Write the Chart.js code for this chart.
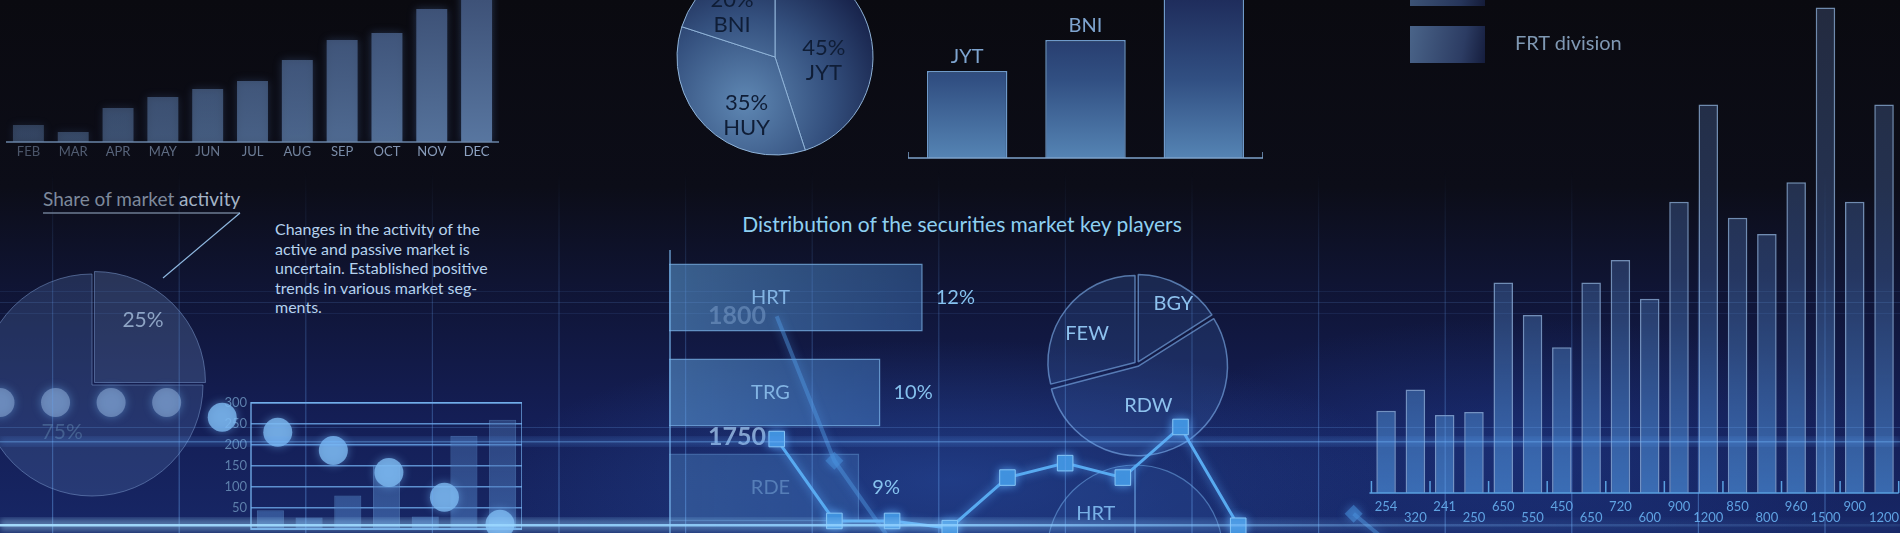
<!DOCTYPE html>
<html>
<head>
<meta charset="utf-8">
<script src="https://cdn.jsdelivr.net/npm/chart.js@4.4.1/dist/chart.umd.min.js"></script>
<style>
  html, body { margin: 0; padding: 0; }
  body {
    width: 1900px; height: 533px; overflow: hidden; position: relative;
    font-family: Lato, "Open Sans", sans-serif;
    background:
      radial-gradient(ellipse 650px 200px at 950px 480px, rgba(45,90,180,0.45), rgba(45,90,180,0) 70%),
      radial-gradient(ellipse 520px 190px at 1520px 450px, rgba(35,70,160,0.35), rgba(35,70,160,0) 70%),
      linear-gradient(to bottom, #0a0a10 0%, #0c0d18 35%, #10163a 58%, #141e55 78%, #172766 100%);
  }
  canvas, .abs { position: absolute; }
  .txt { white-space: nowrap; }
</style>
</head>
<body>

<canvas id="market" width="260" height="260" style="left:-38px;top:255px"></canvas>
<canvas id="activity" width="311" height="150" style="left:211px;top:391px"></canvas>
<canvas id="dots" width="570" height="180" style="left:-40px;top:361px"></canvas>
<canvas id="months" width="493" height="164" style="left:6px;top:0px"></canvas>
<canvas id="share" width="210" height="210" style="left:670px;top:-48px"></canvas>
<canvas id="rank" width="355" height="170" style="left:908px;top:0px"></canvas>
<canvas id="keys" width="340" height="285" style="left:669px;top:250px"></canvas>
<canvas id="players" width="210" height="210" style="left:1032px;top:259px"></canvas>
<canvas id="lower" width="200" height="200" style="left:1035px;top:453px"></canvas>
<canvas id="division" width="540" height="533" style="left:1367px;top:0px"></canvas>
<canvas id="rates" width="790" height="253" style="left:679px;top:280px"></canvas>

<div class="abs txt" style="left:43px;top:187px;font-size:19px;color:#7d899b">Share of market <span style="color:#a3b3c6">activity</span></div>
<div class="abs txt" style="left:275px;top:219px;font-size:16px;line-height:19.6px;color:#b5d2ee">Changes in the activity of the<br>active and passive market is<br>uncertain. Established positive<br>trends in various market seg-<br>ments.</div>
<div class="abs txt" style="left:962px;top:211px;transform:translateX(-50%);font-size:21px;color:#8ed0f2">Distribution of the securities market key players</div>

<div class="abs" style="left:1410px;top:-31px;width:75px;height:37px;background:linear-gradient(100deg,#3f5678,#26355a 70%,#141b38)"></div>
<div class="abs" style="left:1410px;top:26px;width:75px;height:37px;background:linear-gradient(100deg,#4a6489,#2c3c63 70%,#151d3d)"></div>
<div class="abs txt" style="left:1515px;top:30px;font-size:20px;color:#7f98b3">FRT division</div>

<svg id="deco" class="abs" style="left:0;top:0;pointer-events:none" width="1900" height="533"></svg>

<script>
// ---- data ----
const months = ['FEB', 'MAR', 'APR', 'MAY', 'JUN', 'JUL', 'AUG', 'SEP', 'OCT', 'NOV', 'DEC'];
const monthValues = [17, 10, 34, 45, 53, 61, 82, 102, 109, 133, 165];

const sharePlayers = ['JYT', 'HUY', 'BNI'];
const sharePercents = [45, 35, 20];

const rankPlayers = ['JYT', 'BNI', ''];
const rankValues = [87, 118, 175];

const marketShares = [25, 75];

const activitySlots = ['1', '2', '3', '4', '5', '6', '7'];
const activityValues = [45, 28, 80, 152, 30, 222, 260];
const activityDots = [297, 297, 297, 297, 265, 233, 194, 147, 94, 36];

const keyPlayers = ['HRT', 'TRG', 'RDE'];
const keyPercents = [12, 10, 9];

const ratePoints = [1749, 1715, 1715, 1712, 1733, 1739, 1733, 1754, 1713];
const ratePointsPrev = [1800, 1740, 1706, null, null, null, null, null, null, null, 1718, 1698];
const rateTicks = [1800, 1750];

const piePlayers = ['BGY', 'RDW', 'FEW'];
const piePercents = [16, 55, 29];

const lowerPlayers = ['', 'HRT'];
const lowerPercents = [75, 25];

const divisionValues = [254, 320, 241, 250, 650, 550, 450, 650, 720, 600, 900, 1200, 850, 800, 960, 1500, 900, 1200];

// ---- defaults ----
Chart.defaults.font.family = "Lato, 'Open Sans', sans-serif";
Chart.defaults.animation = false;
Chart.defaults.responsive = false;
Chart.defaults.events = [];
Chart.defaults.layout.autoPadding = false;
Chart.defaults.plugins.legend.display = false;
Chart.defaults.plugins.tooltip.enabled = false;

const el = id => document.getElementById(id);

// vertical gradient over the chart area
function vFill(stops) {
    return (c) => {
        const a = c.chart.chartArea;
        if (!a) return stops[0][1];
        const g = c.chart.ctx.createLinearGradient(0, a.top, 0, a.bottom);
        stops.forEach(s => g.addColorStop(s[0], s[1]));
        return g;
    };
}

// text inside pie slices
function sliceLabels(cfg) {
    return {
        id: 'sliceLabels',
        afterDatasetsDraw(chart) {
            const ctx = chart.ctx;
            ctx.save();
            ctx.font = cfg.font;
            ctx.fillStyle = cfg.color;
            ctx.textAlign = 'center';
            ctx.textBaseline = 'middle';
            chart.getDatasetMeta(0).data.forEach((arc, i) => {
                const lines = cfg.text[i];
                if (!lines || !lines.length) return;
                const p = arc.getProps(['x', 'y', 'startAngle', 'endAngle', 'outerRadius']);
                const off = arc.options.offset || 0;
                const ang = (p.startAngle + p.endAngle) / 2 + cfg.shift[i] * Math.PI / 180;
                const r = p.outerRadius * cfg.factor[i] + off;
                const x = p.x + Math.cos(ang) * r;
                const y = p.y + Math.sin(ang) * r;
                lines.forEach((t, k) => ctx.fillText(t, x, y + (k - (lines.length - 1) / 2) * cfg.lineHeight));
            });
            ctx.restore();
        }
    };
}

function glow(color, blur) {
    return {
        id: 'glow',
        beforeDatasetsDraw(chart) {
            chart.ctx.save();
            chart.ctx.shadowColor = color;
            chart.ctx.shadowBlur = blur;
        },
        afterDatasetsDraw(chart) {
            chart.ctx.restore();
        }
    };
}

// ---- monthly bars (top left) ----
const monthAxis = {
    id: 'monthAxis',
    afterDatasetsDraw(chart) {
        const {ctx, chartArea: a} = chart;
        ctx.save();
        ctx.strokeStyle = '#6a84a6';
        ctx.lineWidth = 1.5;
        ctx.beginPath();
        ctx.moveTo(a.left - 6, a.bottom);
        ctx.lineTo(a.right + 8, a.bottom);
        ctx.lineTo(a.right + 8, a.bottom - 5);
        ctx.stroke();
        ctx.restore();
    }
};
new Chart(el('months'), {
    type: 'bar',
    data: {
        labels: months,
        datasets: [{
            data: monthValues,
            backgroundColor: (c) => {
                const a = c.chart.chartArea;
                if (!a) return '#3a4a66';
                const k = 0.45 + 0.55 * c.index / (months.length - 1);
                const g = c.chart.ctx.createLinearGradient(0, a.top, 0, a.bottom);
                g.addColorStop(0, `rgba(62,82,120,${k})`);
                g.addColorStop(1, `rgba(88,118,160,${k})`);
                return g;
            },
            borderWidth: 0,
            barPercentage: 0.69,
            categoryPercentage: 1
        }]
    },
    options: {
        scales: {
            x: {
                grid: {display: false, drawTicks: false},
                border: {display: false},
                ticks: {
                    color: c => `rgba(150,172,204,${0.45 + 0.5 * c.index / (months.length - 1)})`,
                    font: {size: 13},
                    padding: 2,
                    maxRotation: 0,
                    autoSkip: false
                },
                afterFit(s) { s.height = 22; }
            },
            y: {display: false, min: 0, max: 142}
        }
    },
    plugins: [glow('rgba(90,130,200,0.35)', 8), monthAxis]
});

// ---- share pie (top centre) ----
new Chart(el('share'), {
    type: 'pie',
    data: {
        labels: sharePlayers,
        datasets: [{
            data: sharePercents,
            backgroundColor: (c) => {
                const a = c.chart.chartArea;
                if (!a) return '#33507a';
                const cx = (a.left + a.right) / 2, cy = (a.top + a.bottom) / 2;
                const g = c.chart.ctx.createRadialGradient(cx - 30, cy + 45, 5, cx - 30, cy + 45, 150);
                g.addColorStop(0, '#5c84b0');
                g.addColorStop(0.55, '#34507e');
                g.addColorStop(1, '#17224a');
                return g;
            },
            borderColor: '#8fb3d8',
            borderWidth: 1,
            hoverOffset: 0
        }]
    },
    options: {radius: 98},
    plugins: [sliceLabels({
        text: sharePercents.map((v, i) => [v + '%', sharePlayers[i]]),
        factor: [0.5, 0.66, 0.63],
        shift: [13, -19, -8],
        font: '22px Lato, sans-serif',
        color: '#0f1d36',
        lineHeight: 25
    })]
});

// ---- rank bars (top centre) ----
const rankAxis = {
    id: 'rankAxis',
    afterDatasetsDraw(chart) {
        const {ctx, chartArea: a} = chart;
        const meta = chart.getDatasetMeta(0);
        ctx.save();
        ctx.strokeStyle = '#7da3cc';
        ctx.lineWidth = 1.5;
        ctx.beginPath();
        ctx.moveTo(a.left, a.bottom - 6);
        ctx.lineTo(a.left, a.bottom);
        ctx.lineTo(a.right, a.bottom);
        ctx.lineTo(a.right, a.bottom - 6);
        ctx.stroke();
        ctx.font = '20px Lato, sans-serif';
        ctx.fillStyle = '#7ea4cf';
        ctx.textAlign = 'center';
        ctx.textBaseline = 'middle';
        meta.data.forEach((bar, i) => ctx.fillText(rankPlayers[i], bar.x, bar.y - 14));
        ctx.restore();
    }
};
new Chart(el('rank'), {
    type: 'bar',
    data: {
        labels: rankPlayers,
        datasets: [{
            data: rankValues,
            backgroundColor: vFill([[0, '#1f2d5c'], [0.5, '#314f82'], [1, '#5584b4']]),
            borderColor: '#6f9aca',
            borderWidth: 1.5,
            borderSkipped: 'bottom',
            barPercentage: 0.68,
            categoryPercentage: 1
        }]
    },
    options: {
        layout: {padding: {bottom: 12}},
        scales: {x: {display: false}, y: {display: false, min: 0, max: 158}}
    },
    plugins: [rankAxis]
});

// ---- market activity pie (bottom left) ----
new Chart(el('market'), {
    type: 'pie',
    data: {
        labels: marketShares.map(v => v + '%'),
        datasets: [{
            data: marketShares,
            backgroundColor: ['rgba(95,125,175,0.32)', 'rgba(80,110,165,0.30)'],
            borderColor: 'rgba(120,150,200,0.55)',
            borderWidth: 1,
            offset: [14, 0],
            hoverOffset: 0
        }]
    },
    options: {radius: 111},
    plugins: [{
        id: 'marketText',
        afterDatasetsDraw(chart) {
            const ctx = chart.ctx;
            const arcs = chart.getDatasetMeta(0).data;
            const factor = [0.62, 0.5], shift = [-7, -12.5];
            const colors = ['#8ea4c4', 'rgba(75,105,150,0.8)'];
            ctx.save();
            ctx.font = '21px Lato, sans-serif';
            ctx.textAlign = 'center';
            ctx.textBaseline = 'middle';
            arcs.forEach((arc, i) => {
                const off = arc.options.offset || 0;
                const ang = (arc.startAngle + arc.endAngle) / 2 + shift[i] * Math.PI / 180;
                const r = arc.outerRadius * factor[i] + off;
                ctx.fillStyle = colors[i];
                ctx.fillText(marketShares[i] + '%', arc.x + Math.cos(ang) * r, arc.y + Math.sin(ang) * r);
            });
            ctx.restore();
        }
    }]
});

// ---- activity bars (bottom left) ----
const activityFrame = {
    id: 'activityFrame',
    afterDraw(chart) {
        const {ctx, chartArea: a} = chart;
        ctx.save();
        ctx.strokeStyle = 'rgba(120,180,240,0.85)';
        ctx.lineWidth = 1.5;
        ctx.strokeRect(a.left, a.top, a.width, a.height);
        ctx.restore();
    }
};
new Chart(el('activity'), {
    type: 'bar',
    data: {
        labels: activitySlots,
        datasets: [{
            data: activityValues,
            backgroundColor: vFill([[0, 'rgba(70,105,165,0.45)'], [1, 'rgba(80,130,200,0.55)']]),
            borderColor: 'rgba(100,150,210,0.55)',
            borderWidth: 1,
            barPercentage: 0.7,
            categoryPercentage: 1
        }]
    },
    options: {
        layout: {padding: {top: 10}},
        scales: {
            x: {display: false},
            y: {
                min: 0, max: 300,
                grid: {color: 'rgba(110,170,235,0.8)', lineWidth: 1.5, drawTicks: false},
                border: {display: false},
                ticks: {
                    stepSize: 50,
                    padding: 4,
                    color: '#5d7fab',
                    font: {size: 13},
                    callback: v => v === 0 ? '' : v
                },
                afterFit(s) { s.width = 40; }
            }
        }
    },
    plugins: [activityFrame]
});

// ---- dots over the activity chart ----
new Chart(el('dots'), {
    type: 'scatter',
    data: {
        datasets: [{
            data: activityDots.map((v, i) => ({x: i, y: v})),
            pointRadius: 14.5,
            pointBorderWidth: 0,
            pointBackgroundColor: c => c.index < 4 ? 'rgba(120,150,195,0.72)' : 'rgba(125,185,240,0.8)',
            clip: false
        }]
    },
    options: {
        layout: {padding: {left: 40, top: 40, right: 30}},
        scales: {
            x: {type: 'linear', display: false, min: 0, max: activityDots.length - 1},
            y: {display: false, min: 0, max: 300}
        }
    },
    plugins: [glow('rgba(120,190,255,0.6)', 10)]
});

// ---- key players horizontal bars ----
const keyText = {
    id: 'keyText',
    afterDatasetsDraw(chart) {
        const {ctx, chartArea: a, scales: {x}} = chart;
        const meta = chart.getDatasetMeta(0);
        ctx.save();
        ctx.strokeStyle = 'rgba(120,180,235,0.8)';
        ctx.lineWidth = 1.5;
        ctx.beginPath();
        ctx.moveTo(a.left + 1, a.top);
        ctx.lineTo(a.left + 1, a.bottom);
        ctx.stroke();
        ctx.font = '20px Lato, sans-serif';
        ctx.textBaseline = 'middle';
        meta.data.forEach((bar, i) => {
            ctx.textAlign = 'center';
            ctx.fillStyle = i === 2 ? 'rgba(120,165,215,0.55)' : 'rgba(135,185,232,0.95)';
            ctx.fillText(keyPlayers[i], x.getPixelForValue(4.8), bar.y);
            ctx.textAlign = 'left';
            ctx.fillStyle = '#86c2ee';
            ctx.fillText(keyPercents[i] + '%', bar.x + 13, bar.y);
        });
        ctx.restore();
    }
};
new Chart(el('keys'), {
    type: 'bar',
    data: {
        labels: keyPlayers,
        datasets: [{
            data: keyPercents,
            backgroundColor: (c) => {
                const a = c.chart.chartArea;
                if (!a) return 'rgba(80,140,210,0.5)';
                const k = c.index === 2 ? 0.6 : 1;
                const g = c.chart.ctx.createLinearGradient(a.left, 0, a.left + 260, 0);
                g.addColorStop(0, `rgba(95,160,220,${0.55 * k})`);
                g.addColorStop(1, `rgba(70,130,205,${0.42 * k})`);
                return g;
            },
            borderColor: c => c.index === 2 ? 'rgba(110,170,230,0.45)' : 'rgba(125,185,240,0.75)',
            borderWidth: 1.5,
            borderSkipped: 'left',
            barPercentage: 0.716,
            categoryPercentage: 1
        }]
    },
    options: {
        indexAxis: 'y',
        scales: {x: {display: false, min: 0, max: 16.08}, y: {display: false}}
    },
    plugins: [keyText]
});

// ---- exploded players pie ----
new Chart(el('players'), {
    type: 'pie',
    data: {
        labels: piePlayers,
        datasets: [{
            data: piePercents,
            backgroundColor: 'rgba(70,120,200,0.2)',
            borderColor: 'rgba(130,180,240,0.6)',
            borderWidth: 1.5,
            offset: 10,
            hoverOffset: 0
        }]
    },
    options: {radius: 87},
    plugins: [sliceLabels({
        text: piePlayers.map(p => [p]),
        factor: [0.7, 0.38, 0.56],
        shift: [2, 8, -6],
        font: '20px Lato, sans-serif',
        color: '#8ec2ee',
        lineHeight: 24
    })]
});

// ---- lower pie ----
new Chart(el('lower'), {
    type: 'pie',
    data: {
        labels: lowerPlayers,
        datasets: [{
            data: lowerPercents,
            backgroundColor: 'rgba(60,110,190,0.15)',
            borderColor: 'rgba(120,180,240,0.5)',
            borderWidth: 1.2,
            hoverOffset: 0
        }]
    },
    options: {radius: 88},
    plugins: [sliceLabels({
        text: lowerPlayers.map(p => p ? [p] : []),
        factor: [0.5, 0.63],
        shift: [0, 0],
        font: '20px Lato, sans-serif',
        color: '#78b0e6',
        lineHeight: 24
    })]
});

// ---- division bars (right) ----
const divisionAxis = {
    id: 'divisionAxis',
    afterDatasetsDraw(chart) {
        const {ctx, chartArea: a, scales: {x}} = chart;
        const half = (x.getPixelForValue(1) - x.getPixelForValue(0)) / 2;
        ctx.save();
        ctx.strokeStyle = '#5aa0e0';
        ctx.lineWidth = 1.5;
        ctx.beginPath();
        ctx.moveTo(a.left - 2, a.bottom);
        ctx.lineTo(a.right, a.bottom);
        for (let i = 0; i <= divisionValues.length; i += 2) {
            const px = x.getPixelForValue(i) - half;
            ctx.moveTo(px, a.bottom);
            ctx.lineTo(px, a.bottom - 12);
        }
        ctx.stroke();
        ctx.restore();
    }
};
new Chart(el('division'), {
    type: 'bar',
    data: {
        labels: divisionValues.map(String),
        datasets: [{
            data: divisionValues,
            backgroundColor: vFill([[0, 'rgba(60,75,110,0.5)'], [0.55, 'rgba(60,90,145,0.5)'], [1, 'rgba(80,150,225,0.62)']]),
            borderColor: 'rgba(145,182,225,0.75)',
            borderWidth: 1.5,
            borderSkipped: 'bottom',
            barPercentage: 0.667,
            categoryPercentage: 1
        }]
    },
    options: {
        scales: {
            x: {
                grid: {display: false, drawTicks: false},
                border: {display: false},
                ticks: {
                    color: '#5fa2e2',
                    font: {size: 13, lineHeight: 0.85},
                    padding: 8,
                    maxRotation: 0,
                    autoSkip: false,
                    callback: (v, i) => i % 2 === 0 ? [String(divisionValues[i]), ''] : ['', String(divisionValues[i])]
                },
                afterFit(s) { s.height = 40; }
            },
            y: {display: false, min: 0, max: 1523}
        }
    },
    plugins: [divisionAxis]
});

// ---- rate line (centre bottom) ----
const rateLabels = {
    id: 'rateLabels',
    beforeDatasetsDraw(chart) {
        const {ctx, chartArea: a, scales: {y}} = chart;
        ctx.save();
        ctx.font = 'bold 25px Lato, sans-serif';
        ctx.textAlign = 'right';
        ctx.textBaseline = 'middle';
        rateTicks.forEach((t, i) => {
            ctx.fillStyle = i === 0 ? 'rgba(115,150,195,0.6)' : 'rgba(150,185,225,0.85)';
            ctx.fillText(String(t), a.left + 47, y.getPixelForValue(t));
        });
        ctx.restore();
    }
};
new Chart(el('rates'), {
    type: 'line',
    data: {
        datasets: [{
            data: ratePoints.map((v, i) => ({x: i, y: v})),
            borderColor: '#58aaf0',
            borderWidth: 3,
            pointStyle: 'rect',
            pointRadius: 11,
            pointBackgroundColor: '#3f90dc',
            pointBorderColor: '#86c6f6',
            pointBorderWidth: 1,
            tension: 0
        }, {
            data: ratePointsPrev.map((v, i) => ({x: i, y: v})),
            borderColor: 'rgba(80,150,225,0.45)',
            borderWidth: 4,
            pointStyle: 'rectRot',
            pointRadius: c => c.index === 0 ? 0 : 9,
            pointBackgroundColor: 'rgba(70,140,215,0.55)',
            pointBorderWidth: 0,
            spanGaps: false,
            tension: 0
        }]
    },
    options: {
        layout: {padding: {left: 40}},
        scales: {
            x: {type: 'linear', display: false, min: -1, max: 12},
            y: {display: false, min: 1710, max: 1815}
        }
    },
    plugins: [rateLabels, glow('rgba(90,170,255,0.8)', 10)]
});

// ---- decorative grid ----
(function () {
    const svg = el('deco');
    let html = '<defs>' +
        '<linearGradient id="vfade" x1="0" y1="0" x2="0" y2="1">' +
        '<stop offset="0" stop-color="rgb(100,160,240)" stop-opacity="0"/>' +
        '<stop offset="0.35" stop-color="rgb(100,160,240)" stop-opacity="0.22"/>' +
        '<stop offset="1" stop-color="rgb(110,175,250)" stop-opacity="0.42"/></linearGradient>' +
        '<linearGradient id="hfade" x1="0" y1="0" x2="1" y2="0">' +
        '<stop offset="0" stop-color="#a8e0ff" stop-opacity="0.95"/>' +
        '<stop offset="0.5" stop-color="#8fd0ff" stop-opacity="0.85"/>' +
        '<stop offset="0.75" stop-color="#7fc0ff" stop-opacity="0.25"/>' +
        '<stop offset="1" stop-color="#7fc0ff" stop-opacity="0.1"/></linearGradient>' +
        '<filter id="blur"><feGaussianBlur stdDeviation="3"/></filter>' +
        '</defs>';
    for (let k = 0; k < 15; k++) {
        const x = 52 + 126.6 * k;
        html += `<rect x="${x}" y="170" width="1.2" height="363" fill="url(#vfade)"/>`;
    }
    [[291, 0.10], [302, 0.16], [313, 0.10], [427, 0.22]].forEach(([y, o]) => {
        html += `<rect x="0" y="${y}" width="1900" height="1" fill="rgba(110,170,245,${o})"/>`;
    });
    html += '<rect x="0" y="437" width="1900" height="9" fill="rgba(90,160,250,0.22)" filter="url(#blur)"/>';
    html += '<rect x="0" y="441" width="1900" height="1.5" fill="rgba(120,190,255,0.35)"/>';
    html += '<rect x="0" y="519" width="1900" height="12" fill="url(#hfade)" opacity="0.45" filter="url(#blur)"/>';
    html += '<rect x="0" y="524" width="1900" height="2.5" fill="url(#hfade)"/>';
    html += '<line x1="43" y1="213" x2="240" y2="213" stroke="#6d7d93" stroke-width="1.3"/>';
    html += '<line x1="240" y1="213" x2="163" y2="278" stroke="#8fb8e0" stroke-width="1.2"/>';
    svg.innerHTML = html;
})();
</script>
</body>
</html>
